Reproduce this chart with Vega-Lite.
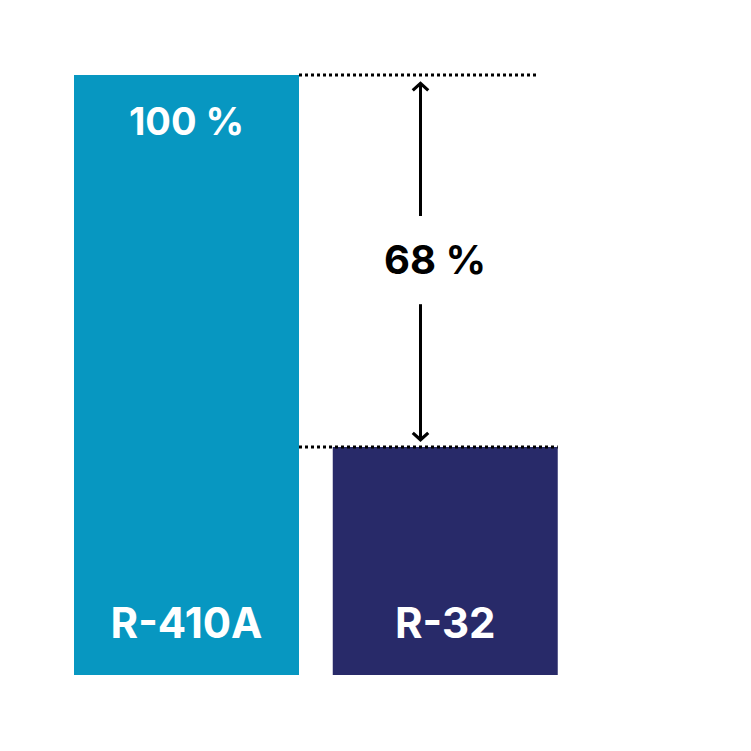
{
  "$schema": "https://vega.github.io/schema/vega-lite/v6.json",
  "width": 751,
  "height": 751,
  "autosize": {"type": "none"},
  "padding": 0,
  "background": "white",
  "config": {"view": {"stroke": null}},
  "datasets": {
    "bars": [
      {"name": "R-410A", "start": 0, "end": 1, "value": 100},
      {"name": "R-32", "start": 1.15, "end": 2.15, "value": 38}
    ],
    "labels": [
      {"text": "100 %", "x": 0.5, "y": 91.8, "kind": "pct"},
      {"text": "R-410A", "x": 0.5, "y": 8.3, "kind": "name"},
      {"text": "R-32", "x": 1.65, "y": 8.3, "kind": "name"}
    ],
    "guides": [
      {"x": 1, "x2": 2.06, "y": 100},
      {"x": 1, "x2": 2.15, "y": 38}
    ],
    "shafts": [
      {"x": 1.54, "y": 98.5, "y2": 76.5},
      {"x": 1.54, "y": 61.8, "y2": 39.3}
    ],
    "heads": [
      {"x": 1.54, "y": 98.6, "dir": "up"},
      {"x": 1.54, "y": 39.2, "dir": "down"}
    ],
    "diff": [
      {"text": "68 %", "x": 1.605, "y": 68.8}
    ]
  },
  "layer": [
    {
      "data": {"name": "bars"},
      "mark": {"type": "rect"},
      "encoding": {
        "x": {"field": "start", "type": "quantitative", "scale": {"domain": [-0.3289, 3.0089], "nice": false, "zero": false}, "axis": null},
        "x2": {"field": "end"},
        "y": {"field": "value", "type": "quantitative", "scale": {"domain": [-12.667, 112.5], "nice": false, "zero": false}, "axis": null},
        "y2": {"datum": 0},
        "color": {"field": "name", "type": "nominal", "scale": {"domain": ["R-410A", "R-32"], "range": ["#0797C1", "#282A69"]}, "legend": null}
      }
    },
    {
      "data": {"name": "labels"},
      "mark": {"type": "text", "color": "white", "font": "Inter", "fontWeight": "bold", "baseline": "middle", "align": "center"},
      "encoding": {
        "x": {"field": "x", "type": "quantitative"},
        "y": {"field": "y", "type": "quantitative"},
        "text": {"field": "text"},
        "size": {"field": "kind", "type": "nominal", "scale": {"domain": ["pct", "name"], "range": [38, 42]}, "legend": null}
      }
    },
    {
      "data": {"name": "guides"},
      "mark": {"type": "rule", "color": "black", "strokeWidth": 3.2, "strokeDash": [3, 3]},
      "encoding": {
        "x": {"field": "x", "type": "quantitative"},
        "x2": {"field": "x2"},
        "y": {"field": "y", "type": "quantitative"}
      }
    },
    {
      "data": {"name": "shafts"},
      "mark": {"type": "rule", "color": "black", "strokeWidth": 3},
      "encoding": {
        "x": {"field": "x", "type": "quantitative"},
        "y": {"field": "y", "type": "quantitative"},
        "y2": {"field": "y2"}
      }
    },
    {
      "data": {"name": "heads"},
      "mark": {"type": "point", "filled": false, "color": "black", "strokeWidth": 3.2, "strokeJoin": "miter", "opacity": 1},
      "encoding": {
        "x": {"field": "x", "type": "quantitative"},
        "y": {"field": "y", "type": "quantitative"},
        "shape": {"field": "dir", "type": "nominal", "scale": {"domain": ["up", "down"], "range": ["M-1,0.9L0,0L1,0.9", "M-1,-0.9L0,0L1,-0.9"]}, "legend": null},
        "size": {"value": 240}
      }
    },
    {
      "data": {"name": "diff"},
      "mark": {"type": "text", "color": "black", "font": "Inter", "fontWeight": "bold", "fontSize": 40, "baseline": "middle", "align": "center"},
      "encoding": {
        "x": {"field": "x", "type": "quantitative"},
        "y": {"field": "y", "type": "quantitative"},
        "text": {"field": "text"}
      }
    }
  ]
}
